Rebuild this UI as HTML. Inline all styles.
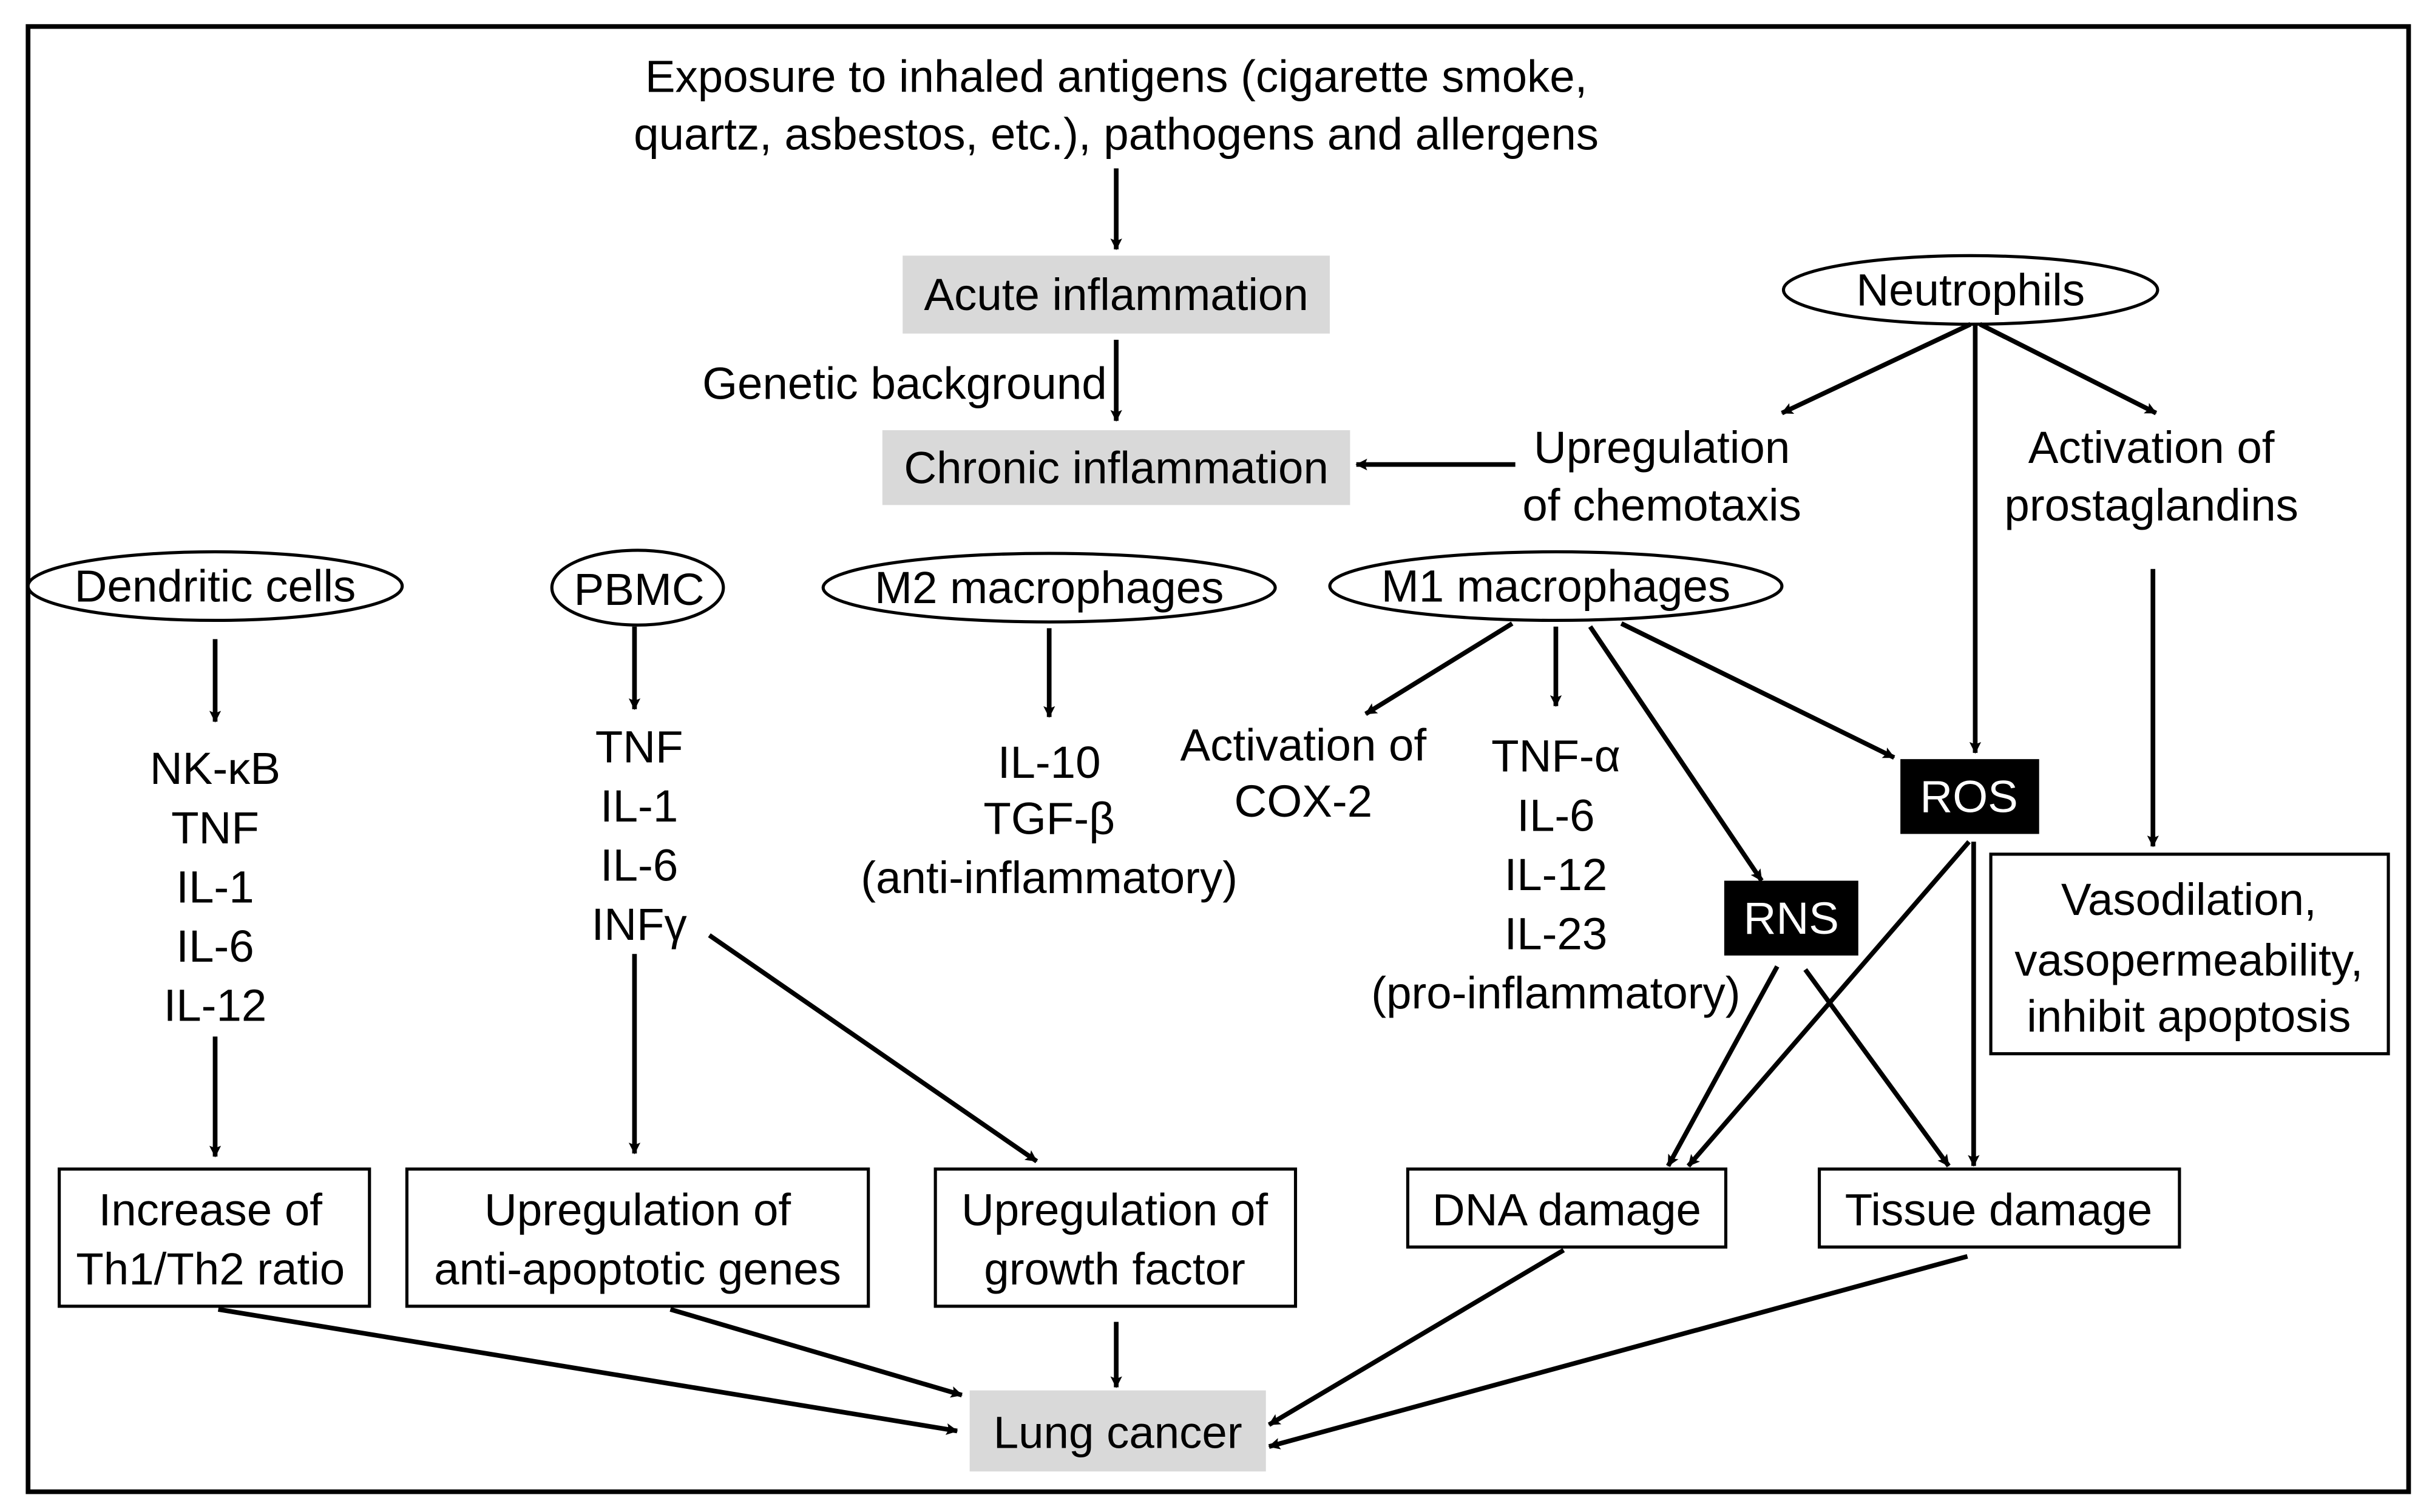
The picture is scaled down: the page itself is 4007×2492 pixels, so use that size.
<!DOCTYPE html>
<html><head><meta charset="utf-8"><style>html,body{margin:0;padding:0;background:#fff}svg{display:block}</style></head>
<body>
<svg width="4007" height="2492" viewBox="0 0 1560 970" preserveAspectRatio="none" xmlns="http://www.w3.org/2000/svg" font-family="'Liberation Sans', Arial, sans-serif" font-size="29" text-anchor="middle">
<defs>
<marker id="a" viewBox="0 0 10 10" refX="9" refY="5" markerWidth="5" markerHeight="5" markerUnits="userSpaceOnUse" orient="auto" overflow="visible">
<path d="M0,0 L10,5 L0,10 L2,5 z" fill="#000" transform="scale(1.5) translate(-3.3,-1.7)"/>
</marker>
</defs>
<rect x="18" y="17" width="1527" height="940" fill="#fff" stroke="#000" stroke-width="3"/>
<text x="716" y="59">Exposure to inhaled antigens (cigarette smoke,</text>
<text x="716" y="96">quartz, asbestos, etc.), pathogens and allergens</text>
<rect x="579" y="164" width="274" height="50" fill="#d9d9d9"/>
<text x="716" y="199">Acute inflammation</text>
<text x="710" y="256" text-anchor="end">Genetic background</text>
<rect x="566" y="276" width="300" height="48" fill="#d9d9d9"/>
<text x="716" y="310">Chronic inflammation</text>
<ellipse cx="1264" cy="186" rx="120" ry="22" fill="#fff" stroke="#000" stroke-width="2"/>
<text x="1264" y="196">Neutrophils</text>
<text x="1066" y="297">Upregulation</text>
<text x="1066" y="334">of chemotaxis</text>
<text x="1380" y="297">Activation of</text>
<text x="1380" y="334">prostaglandins</text>
<ellipse cx="138" cy="376" rx="120" ry="22" fill="#fff" stroke="#000" stroke-width="2"/>
<text x="138" y="386">Dendritic cells</text>
<ellipse cx="409" cy="377" rx="55" ry="24" fill="#fff" stroke="#000" stroke-width="2"/>
<text x="410" y="388">PBMC</text>
<ellipse cx="673" cy="377" rx="145" ry="22" fill="#fff" stroke="#000" stroke-width="2"/>
<text x="673" y="387">M2 macrophages</text>
<ellipse cx="998" cy="376" rx="145" ry="22" fill="#fff" stroke="#000" stroke-width="2"/>
<text x="998" y="386">M1 macrophages</text>
<g>
<text x="138" y="503">NK-κB</text><text x="138" y="541">TNF</text><text x="138" y="579">IL-1</text><text x="138" y="617">IL-6</text><text x="138" y="655">IL-12</text>
<text x="410" y="489">TNF</text><text x="410" y="527">IL-1</text><text x="410" y="565">IL-6</text><text x="410" y="603">INFγ</text>
<text x="673" y="499">IL-10</text><text x="673" y="535">TGF-β</text><text x="673" y="573">(anti-inflammatory)</text>
<text x="836" y="488">Activation of</text><text x="836" y="524">COX-2</text>
<text x="998" y="495">TNF-α</text><text x="998" y="533">IL-6</text><text x="998" y="571">IL-12</text><text x="998" y="609">IL-23</text><text x="998" y="647">(pro-inflammatory)</text>
</g>
<rect x="1219" y="487" width="89" height="48" fill="#000"/>
<text x="1263" y="521" fill="#fff">ROS</text>
<rect x="1106" y="565" width="86" height="48" fill="#000"/>
<text x="1149" y="599" fill="#fff">RNS</text>
<rect x="1277" y="548" width="255" height="128" fill="#fff" stroke="#000" stroke-width="2"/>
<text x="1404" y="587">Vasodilation,</text><text x="1404" y="626">vasopermeability,</text><text x="1404" y="662">inhibit apoptosis</text>
<g fill="#fff" stroke="#000" stroke-width="2">
<rect x="38" y="750" width="199" height="88"/>
<rect x="261" y="750" width="296" height="88"/>
<rect x="600" y="750" width="231" height="88"/>
<rect x="903" y="750" width="204" height="50"/>
<rect x="1167" y="750" width="231" height="50"/>
</g>
<text x="135" y="786">Increase of</text><text x="135" y="824">Th1/Th2 ratio</text>
<text x="409" y="786">Upregulation of</text><text x="409" y="824">anti-apoptotic genes</text>
<text x="715" y="786">Upregulation of</text><text x="715" y="824">growth factor</text>
<text x="1005" y="786">DNA damage</text>
<text x="1282" y="786">Tissue damage</text>
<rect x="622" y="892" width="190" height="52" fill="#d9d9d9"/>
<text x="717" y="929">Lung cancer</text>
<g stroke="#000" stroke-width="3" fill="none" marker-end="url(#a)">
<line x1="716" y1="108" x2="716" y2="160"/>
<line x1="716" y1="218" x2="716" y2="270"/>
<line x1="1264" y1="208" x2="1143" y2="265"/>
<line x1="1267" y1="208" x2="1267" y2="483"/>
<line x1="1270" y1="208" x2="1383" y2="265"/>
<line x1="972" y1="298" x2="870" y2="298"/>
<line x1="138" y1="410" x2="138" y2="463"/>
<line x1="407" y1="402" x2="407" y2="455"/>
<line x1="673" y1="403" x2="673" y2="460"/>
<line x1="970" y1="400" x2="876" y2="458"/>
<line x1="998" y1="402" x2="998" y2="453"/>
<line x1="1020" y1="402" x2="1130" y2="565"/>
<line x1="1040" y1="400" x2="1215" y2="486"/>
<line x1="1381" y1="365" x2="1381" y2="543"/>
<line x1="1263" y1="540" x2="1083" y2="748"/>
<line x1="1266" y1="540" x2="1266" y2="748"/>
<line x1="1140" y1="620" x2="1070" y2="748"/>
<line x1="1158" y1="622" x2="1250" y2="748"/>
<line x1="138" y1="665" x2="138" y2="742"/>
<line x1="407" y1="612" x2="407" y2="740"/>
<line x1="455" y1="600" x2="665" y2="745"/>
<line x1="140" y1="840" x2="614" y2="918"/>
<line x1="430" y1="840" x2="617" y2="895"/>
<line x1="716" y1="848" x2="716" y2="890"/>
<line x1="1003" y1="802" x2="814" y2="914"/>
<line x1="1262" y1="806" x2="814" y2="928"/>
</g>
</svg>
</body></html>
